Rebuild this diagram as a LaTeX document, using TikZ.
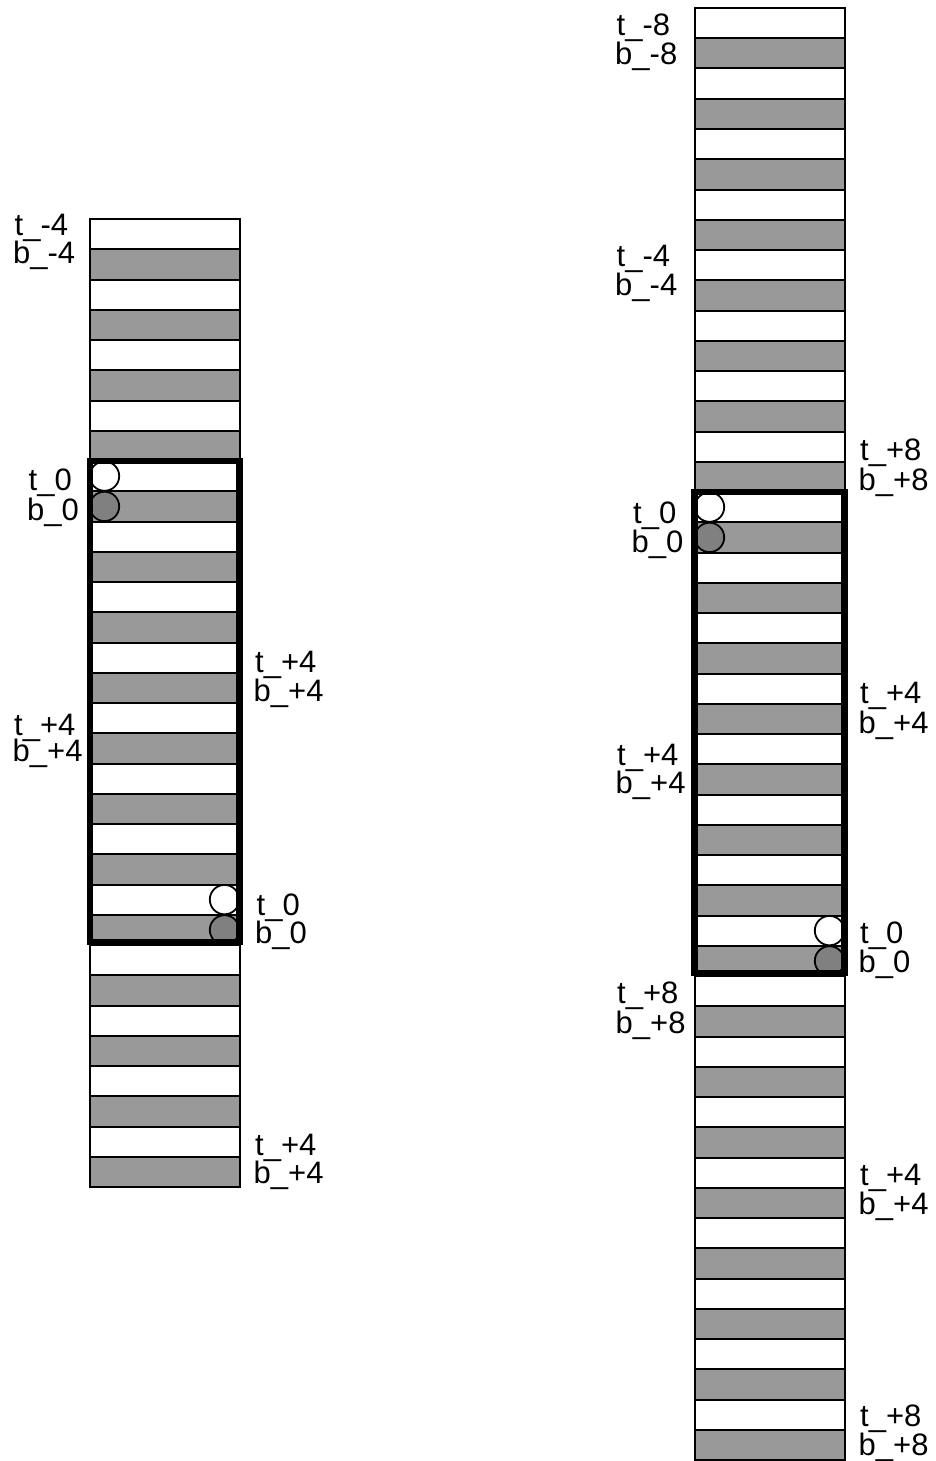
\documentclass[tikz,border=0pt]{standalone}
\usepackage{fontspec}
\setmainfont{Liberation Sans}
\definecolor{stripegray}{RGB}{153,153,153}
\definecolor{dotgray}{RGB}{128,128,128}
\newcommand\lblpair[5]{% name, x, y top baseline, y bottom baseline, index
  \node[lbl] (#1t) at (#2,#3) {t\_#5};
  \node[lbl] (#1b) at ({#2-1.5},#4) {b\_#5};
}
\begin{document}
\begin{tikzpicture}[x=1pt,y=-1pt,
  lbl/.style={inner sep=0pt, anchor=base west, font=\fontsize{31}{31}\selectfont},
  rowline/.style={draw=black, line width=2pt},
  frame/.style={draw=black, line width=6.5pt},
  dot/.style={draw=black, line width=1.8pt}]
\useasboundingbox (0,0) rectangle (936,1461);
% left column: 16 white/gray pairs
\foreach \k in {0,...,15} {
  \path[rowline, fill=white] (90,{219+60.5*\k}) rectangle (239.5,{219+60.5*\k+30.25});
  \path[rowline, fill=stripegray] (90,{219+60.5*\k+30.25}) rectangle (239.5,{219+60.5*\k+60.5});
}
% right column: 24 white/gray pairs
\foreach \k in {0,...,23} {
  \path[rowline, fill=white] (694.5,{8+60.5*\k}) rectangle (844.5,{8+60.5*\k+30.25});
  \path[rowline, fill=stripegray] (694.5,{8+60.5*\k+30.25}) rectangle (844.5,{8+60.5*\k+60.5});
}
% circles
\path[dot, fill=white] (104.5,476.1) circle (14.7pt);
\path[dot, fill=dotgray] (104.5,506.4) circle (14.7pt);
\path[dot, fill=white] (224.5,899.6) circle (14.7pt);
\path[dot, fill=dotgray] (224.5,929.9) circle (14.7pt);
\path[dot, fill=white] (709.5,507.1) circle (14.7pt);
\path[dot, fill=dotgray] (709.5,537.4) circle (14.7pt);
\path[dot, fill=white] (829.5,930.6) circle (14.7pt);
\path[dot, fill=dotgray] (829.5,960.9) circle (14.7pt);
% thick frames
\path[frame] (90,461) rectangle (239.5,942);
\path[frame] (694.5,492) rectangle (844.5,973);
% labels, left column
\lblpair{la}{14.5}{235}{263}{-4}
\lblpair{lb}{28.5}{490.5}{520}{0}
\lblpair{lc}{255}{672}{701}{+4}
\lblpair{ld}{14}{735}{761}{+4}
\lblpair{le}{256.5}{915}{943}{0}
\lblpair{lf}{255}{1155}{1183}{+4}
% labels, right column
\lblpair{ra}{616.5}{36}{65}{-8}
\lblpair{rb}{616.5}{266}{295}{-4}
\lblpair{rc}{860}{460}{490}{+8}
\lblpair{rd}{633}{523}{552}{0}
\lblpair{re}{860}{703}{733}{+4}
\lblpair{rf}{617}{765}{793}{+4}
\lblpair{rg}{860}{943}{972}{0}
\lblpair{rh}{617}{1003}{1033}{+8}
\lblpair{ri}{860}{1185}{1214}{+4}
\lblpair{rj}{860}{1426}{1455}{+8}
\end{tikzpicture}
\end{document}
